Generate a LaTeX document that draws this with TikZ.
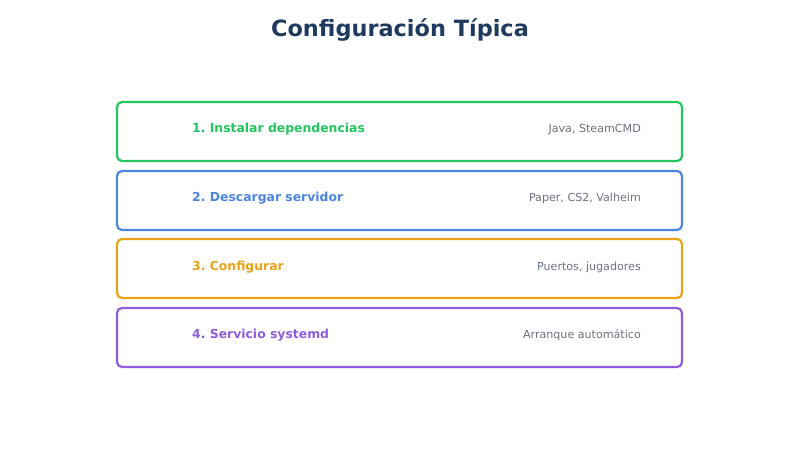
\documentclass[tikz,border=0pt]{standalone}
\usepackage{fontspec}
\setmainfont{DejaVu Sans}
\frenchspacing
\definecolor{cgreen}{HTML}{22C55E}
\definecolor{cblue}{HTML}{4A86DF}
\definecolor{corange}{HTML}{E9A317}
\definecolor{cpurple}{HTML}{8E5CDE}
\definecolor{cgray}{HTML}{6B7280}
\definecolor{ctitle}{HTML}{1E3A5F}
\tikzset{
  stepbox/.style={draw, line width=2.2pt, rounded corners=5pt, fill=white, minimum width=565pt, minimum height=59pt, inner sep=0pt},
  steplabel/.style={anchor=west, font=\fontsize{12.4}{14}\selectfont\bfseries, inner sep=0pt},
  stepnote/.style={anchor=east, font=\fontsize{11.1}{13}\selectfont, text=cgray, inner sep=0pt},
}
\begin{document}
\begin{tikzpicture}[x=1pt,y=-1pt]
\useasboundingbox (0,0) rectangle (800,450);
\node[font=\fontsize{22.4}{26}\selectfont\bfseries, text=ctitle] (title) at (400,30) {Configuración Típica};
\node[stepbox, draw=cgreen] (b1) at (399.5,131.5) {};
\node[stepbox, draw=cblue] (b2) at (399.5,200.5) {};
\node[stepbox, draw=corange] (b3) at (399.5,268.5) {};
\node[stepbox, draw=cpurple] (b4) at (399.5,337.5) {};
\node[steplabel, text=cgreen] (l1) at (192,129.5) {1. Instalar dependencias};
\node[steplabel, text=cblue] (l2) at (192,198.5) {2. Descargar servidor};
\node[steplabel, text=corange] (l3) at (192,267) {3. Configurar};
\node[steplabel, text=cpurple] (l4) at (192,335.5) {4. Servicio systemd};
\node[stepnote] (n1) at (641,129.5) {Java, SteamCMD};
\node[stepnote] (n2) at (641,198.5) {Paper, CS2, Valheim};
\node[stepnote] (n3) at (641,267) {Puertos, jugadores};
\node[stepnote] (n4) at (641,335.5) {Arranque automático};
\end{tikzpicture}
\end{document}
